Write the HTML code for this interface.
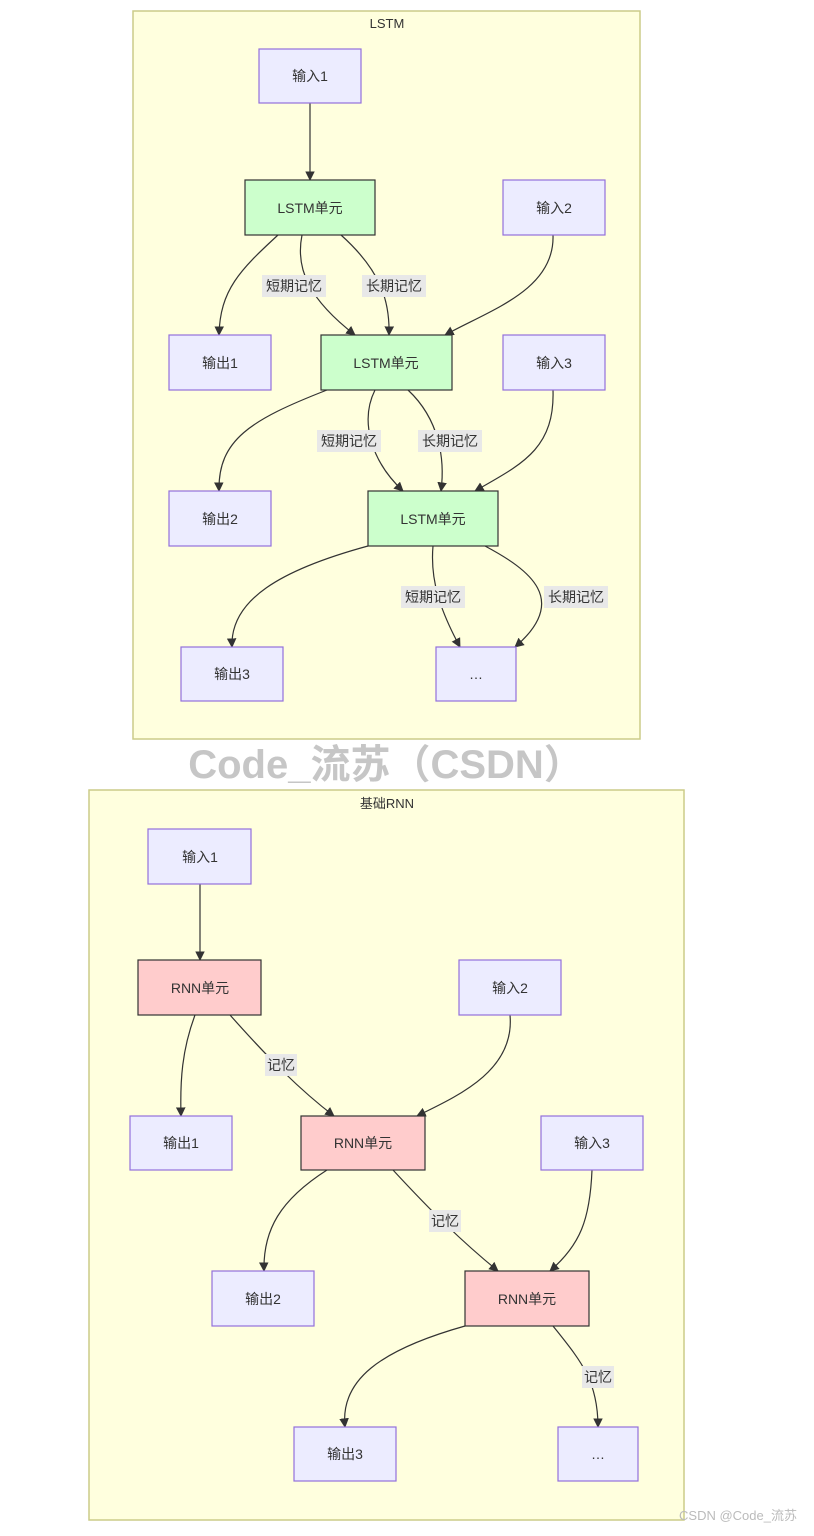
<!DOCTYPE html>
<html><head><meta charset="utf-8"><style>
html,body{margin:0;padding:0;background:#fff;}
svg text{font-family:"Liberation Sans","Noto Sans CJK SC",sans-serif;fill:#333;}
</style></head><body>
<svg width="814" height="1531" viewBox="0 0 814 1531" xmlns="http://www.w3.org/2000/svg">
<defs><marker id="a" viewBox="0 0 10 10" refX="9" refY="5" markerWidth="8" markerHeight="8" orient="auto"><path d="M0,0L10,5L0,10z" fill="#333"/></marker></defs>
<rect x="133" y="11" width="507" height="728" fill="#ffffde" stroke="#cccc88" stroke-width="1.5"/>
<text x="387" y="28" font-size="13" text-anchor="middle">LSTM</text>
<rect x="89" y="790" width="595" height="730" fill="#ffffde" stroke="#cccc88" stroke-width="1.5"/>
<text x="387" y="808" font-size="13" text-anchor="middle">基础RNN</text>
<g fill="none" stroke="#333" stroke-width="1.2" marker-end="url(#a)">
<path d="M310,103L310,180"/>
<path d="M278,235C240,270 220,290 219,335"/>
<path d="M302,235C295,270 310,300 355,335"/>
<path d="M341,235C380,270 390,300 389,335"/>
<path d="M553,235C555,290 490,310 445,335"/>
<path d="M327,390C250,420 218,440 219,491"/>
<path d="M375,390C360,420 370,460 403,491"/>
<path d="M408,390C440,420 445,460 441,491"/>
<path d="M553,390C555,450 520,465 475,491"/>
<path d="M368,546C280,570 230,600 232,647"/>
<path d="M433,546C430,580 440,610 460,647"/>
<path d="M485,546C530,570 570,600 515,647"/>
<path d="M200,884L200,960"/>
<path d="M195,1015C182,1050 180,1080 181,1116"/>
<path d="M230,1015C270,1060 300,1090 334,1116"/>
<path d="M510,1015C515,1070 460,1095 417,1116"/>
<path d="M327,1170C280,1200 263,1230 264,1271"/>
<path d="M393,1170C430,1210 460,1240 498,1271"/>
<path d="M592,1170C590,1220 580,1245 550,1271"/>
<path d="M465,1326C380,1350 340,1380 345,1427"/>
<path d="M553,1326C580,1360 598,1380 598,1427"/>
</g>
<g font-size="14" text-anchor="middle">
<g fill="#e8e8e8">
<rect x="262" y="275" width="64" height="22"/><rect x="362" y="275" width="64" height="22"/>
<rect x="317" y="430" width="64" height="22"/><rect x="418" y="430" width="64" height="22"/>
<rect x="401" y="586" width="64" height="22"/><rect x="544" y="586" width="64" height="22"/>
<rect x="265" y="1054" width="32" height="22"/><rect x="429" y="1210" width="32" height="22"/><rect x="582" y="1366" width="32" height="22"/>
</g>
<text x="294" y="291">短期记忆</text><text x="394" y="291">长期记忆</text>
<text x="349" y="446">短期记忆</text><text x="450" y="446">长期记忆</text>
<text x="433" y="602">短期记忆</text><text x="576" y="602">长期记忆</text>
<text x="281" y="1070">记忆</text><text x="445" y="1226">记忆</text><text x="598" y="1382">记忆</text>
</g>
<g stroke-width="1.2">
<g fill="#ececff" stroke="#9370db">
<rect x="259" y="49" width="102" height="54"/><rect x="503" y="180" width="102" height="55"/>
<rect x="169" y="335" width="102" height="55"/><rect x="503" y="335" width="102" height="55"/>
<rect x="169" y="491" width="102" height="55"/><rect x="181" y="647" width="102" height="54"/>
<rect x="436" y="647" width="80" height="54"/>
<rect x="148" y="829" width="103" height="55"/><rect x="459" y="960" width="102" height="55"/>
<rect x="130" y="1116" width="102" height="54"/><rect x="541" y="1116" width="102" height="54"/>
<rect x="212" y="1271" width="102" height="55"/><rect x="294" y="1427" width="102" height="54"/>
<rect x="558" y="1427" width="80" height="54"/>
</g>
<g fill="#ccffcc" stroke="#333">
<rect x="245" y="180" width="130" height="55"/><rect x="321" y="335" width="131" height="55"/><rect x="368" y="491" width="130" height="55"/>
</g>
<g fill="#ffcccc" stroke="#333">
<rect x="138" y="960" width="123" height="55"/><rect x="301" y="1116" width="124" height="54"/><rect x="465" y="1271" width="124" height="55"/>
</g>
</g>
<g font-size="14" text-anchor="middle">
<text x="310" y="81">输入1</text><text x="310" y="213">LSTM单元</text><text x="554" y="213">输入2</text>
<text x="220" y="368">输出1</text><text x="386" y="368">LSTM单元</text><text x="554" y="368">输入3</text>
<text x="220" y="524">输出2</text><text x="433" y="524">LSTM单元</text>
<text x="232" y="679">输出3</text><text x="476" y="679">…</text>
<text x="200" y="862">输入1</text><text x="200" y="993">RNN单元</text><text x="510" y="993">输入2</text>
<text x="181" y="1148">输出1</text><text x="363" y="1148">RNN单元</text><text x="592" y="1148">输入3</text>
<text x="263" y="1304">输出2</text><text x="527" y="1304">RNN单元</text>
<text x="345" y="1459">输出3</text><text x="598" y="1459">…</text>
</g>
<text x="386" y="778" font-size="40" font-weight="bold" text-anchor="middle" style="fill:#c6c6c6">Code_流苏（CSDN）</text>
<text x="738" y="1520" font-size="13" text-anchor="middle" style="fill:#bbb">CSDN @Code_流苏</text>
</svg>
</body></html>
